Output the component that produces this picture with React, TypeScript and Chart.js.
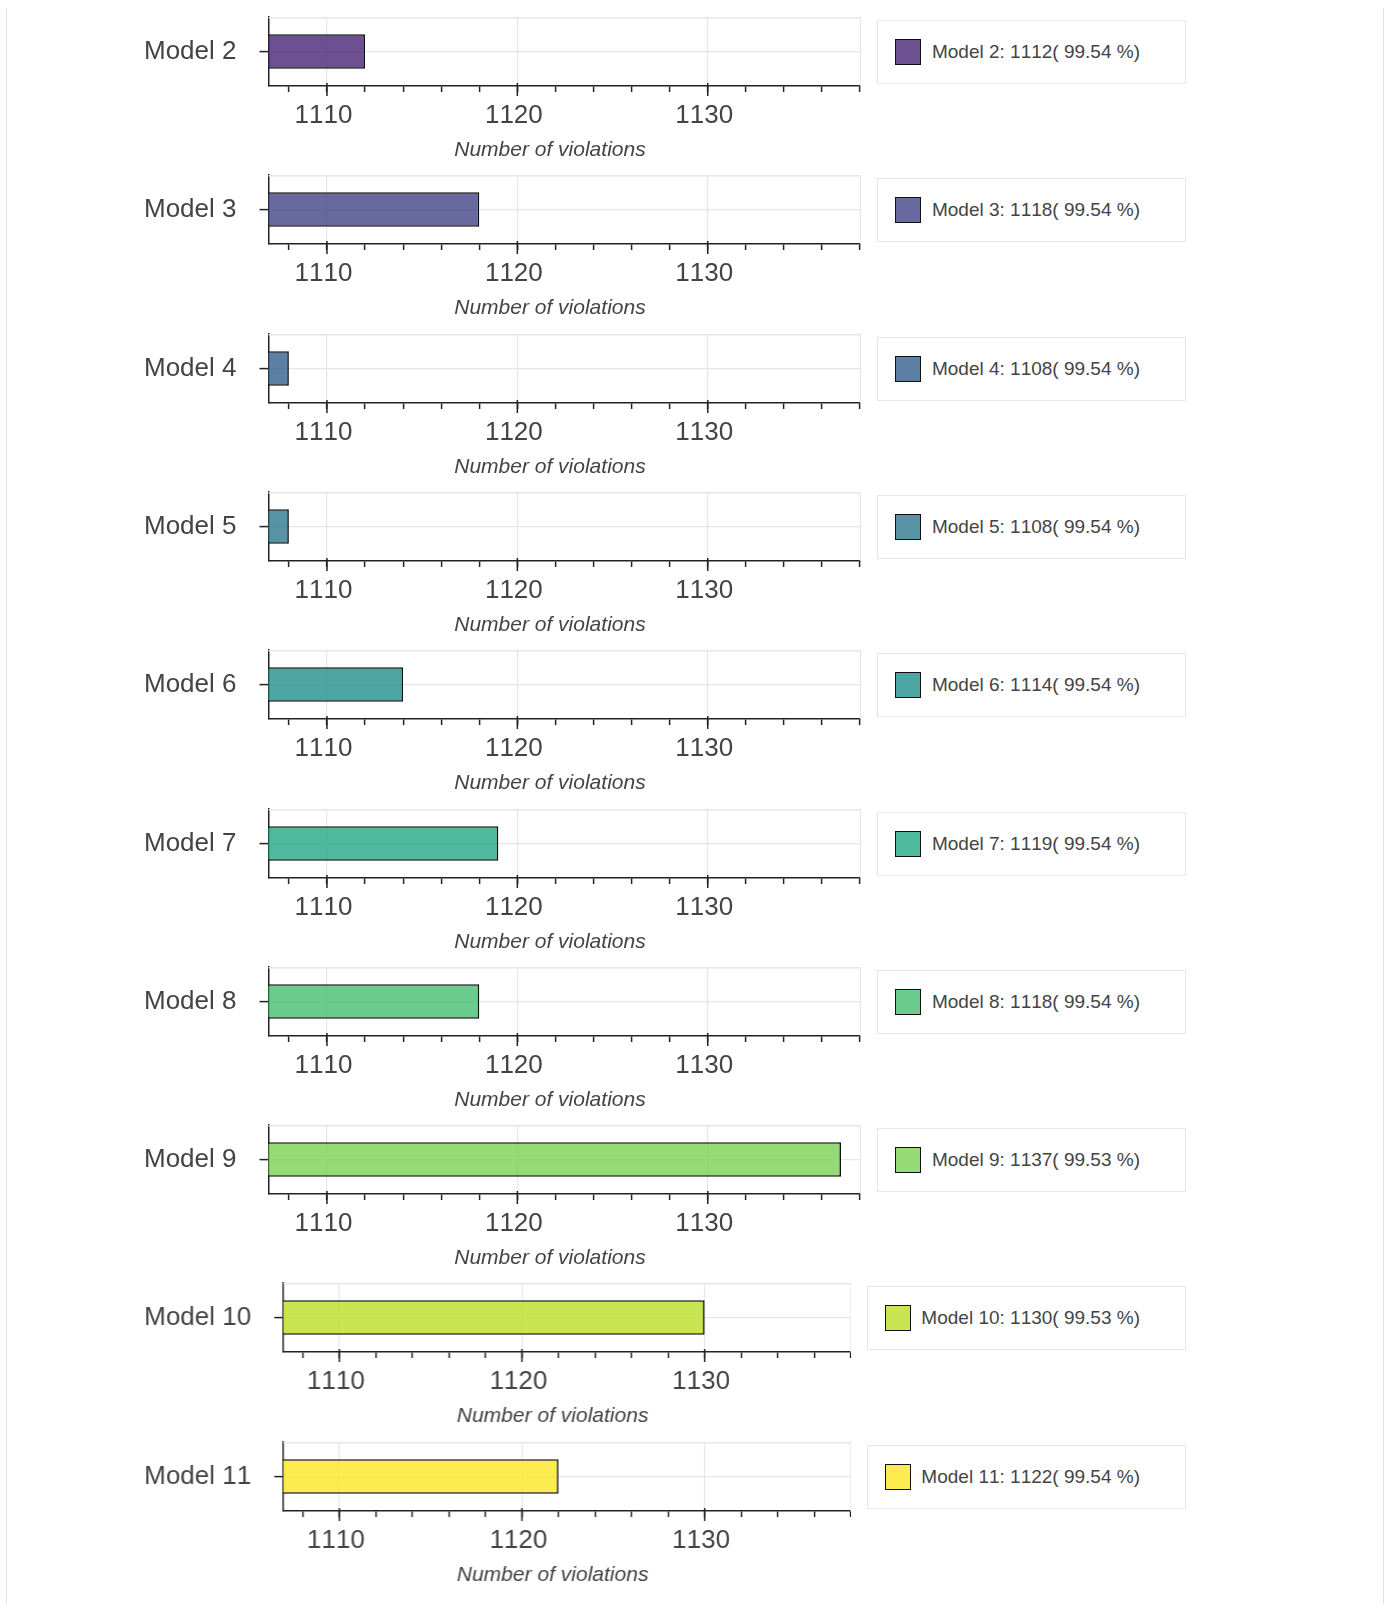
import React, { useEffect, useRef } from 'react';
import { Chart, registerables } from 'chart.js';

Chart.register(...registerables);

// ---------- data ----------
const models = ['Model 2', 'Model 3', 'Model 4', 'Model 5', 'Model 6', 'Model 7', 'Model 8', 'Model 9', 'Model 10', 'Model 11'];
const violations = [1112, 1118, 1108, 1108, 1114, 1119, 1118, 1137, 1130, 1122];
const percents = ['99.54', '99.54', '99.54', '99.54', '99.54', '99.54', '99.54', '99.53', '99.53', '99.54'];
const barColors = ['#482475', '#414487', '#355F8D', '#2A788E', '#21908D', '#22A884', '#43BF71', '#7AD151', '#BBDF27', '#FDE725'];
const axisMin = 1106.93;
const axisMax = 1138.07;
const minorStep = 2;
const majorStep = 10;
const axisTitle = 'Number of violations';

// ---------- style ----------
const FONT = "'Liberation Sans', Arial, Helvetica, sans-serif";
const TEXT = '#444444';
const LIGHT = '#e6e6e6';
const DARK = '#222222';
const PANEL_STEP = 158.3;
const PANEL_H = 158;

Chart.defaults.font.family = FONT;

function rgba(hex: string, a: number): string {
  const h = hex.replace('#', '');
  const r = parseInt(h.slice(0, 2), 16);
  const g = parseInt(h.slice(2, 4), 16);
  const b = parseInt(h.slice(4, 6), 16);
  return `rgba(${r},${g},${b},${a})`;
}

const isMajor = (v: number) => Math.abs(v / majorStep - Math.round(v / majorStep)) < 1e-6;

const noKern = (chart: any) => {
  try {
    chart.ctx.fontKerning = 'none';
  } catch (e) {
    /* ignore */
  }
};

const decorPlugin = {
  id: 'decor',
  beforeInit: noKern,
  beforeUpdate: noKern,
  beforeLayout: noKern,
  beforeDraw: noKern,
  beforeDatasetsDraw(chart: any) {
    const { ctx, chartArea } = chart;
    const { left, right, top, bottom } = chartArea;
    ctx.save();
    ctx.strokeStyle = LIGHT;
    ctx.lineWidth = 1.5;
    ctx.beginPath();
    ctx.moveTo(left, top + 0.75);
    ctx.lineTo(right - 0.75, top + 0.75);
    ctx.lineTo(right - 0.75, bottom);
    ctx.stroke();
    ctx.restore();
  },
  afterDatasetsDraw(chart: any) {
    const { ctx, chartArea } = chart;
    const { left, right, bottom } = chartArea;
    const xs = chart.scales.x;
    ctx.save();
    ctx.strokeStyle = DARK;
    ctx.lineWidth = 1.5;
    xs.ticks.forEach((t: any) => {
      if (isMajor(t.value)) {
        const px = xs.getPixelForValue(t.value);
        ctx.beginPath();
        ctx.moveTo(px, bottom - 3);
        ctx.lineTo(px, bottom + 10);
        ctx.stroke();
      }
    });
    ctx.font = `italic 21px ${FONT}`;
    ctx.fillStyle = TEXT;
    ctx.textAlign = 'center';
    ctx.textBaseline = 'middle';
    ctx.fillText(axisTitle, (left + right) / 2 - 15, bottom + 64.5);
    ctx.restore();
  },
};

function Panel({ index }: { index: number }) {
  const ref = useRef<HTMLCanvasElement | null>(null);

  useEffect(() => {
    if (!ref.current) return;
    const chart = new Chart(ref.current, {
      type: 'bar',
      data: {
        labels: [models[index]],
        datasets: [
          {
            data: [violations[index]],
            backgroundColor: rgba(barColors[index], 0.8),
            borderColor: '#111111',
            borderWidth: 1.6,
            barPercentage: 0.5,
            categoryPercentage: 1,
          },
        ],
      },
      options: {
        indexAxis: 'y',
        animation: false,
        responsive: true,
        maintainAspectRatio: false,
        layout: { padding: { top: 9, left: 113, right: 0, bottom: 0 } },
        plugins: {
          legend: { display: false },
          tooltip: { enabled: false },
          title: { display: false },
        },
        scales: {
          x: {
            type: 'linear',
            min: axisMin,
            max: axisMax,
            grid: {
              color: (c: any) => (c.tick && isMajor(c.tick.value) ? LIGHT : 'rgba(0,0,0,0)'),
              lineWidth: 1.2,
              tickColor: DARK,
              tickWidth: 1.5,
              tickLength: 6,
            },
            border: { color: DARK, width: 1.5 },
            ticks: {
              stepSize: minorStep,
              includeBounds: false,
              autoSkip: false,
              maxRotation: 0,
              padding: 8,
              labelOffset: -3.5,
              color: TEXT,
              font: { family: FONT, size: 26 },
              callback: (v: any) => (isMajor(Number(v)) ? String(Math.round(Number(v))) : ''),
            },
            afterFit: (s: any) => {
              s.height = 80;
              s.paddingLeft = 0;
              s.paddingRight = 0;
            },
          },
          y: {
            type: 'category',
            grid: {
              color: LIGHT,
              lineWidth: 1.2,
              offset: false,
              tickColor: DARK,
              tickWidth: 1.5,
              tickLength: 9,
            },
            border: { color: DARK, width: 1.5 },
            ticks: {
              color: TEXT,
              padding: 23,
              font: { family: FONT, size: 26 },
            },
            afterFit: (s: any) => {
              s.paddingTop = 0;
              s.paddingBottom = 0;
            },
          },
        },
      },
      plugins: [decorPlugin],
    } as any);
    return () => chart.destroy();
  }, [index]);

  return (
    <div style={{ position: 'relative', flex: '1 1 0', minWidth: 0, height: PANEL_H }}>
      <canvas ref={ref} />
    </div>
  );
}

function LegendBox({ index }: { index: number }) {
  const text = `${models[index]}: ${violations[index]}( ${percents[index]} %)`;
  return (
    <div
      style={{
        flex: 'none',
        marginLeft: 16,
        marginTop: 11.5,
        height: 64,
        boxSizing: 'border-box',
        border: `1.5px solid ${LIGHT}`,
        display: 'flex',
        alignItems: 'center',
        paddingLeft: 17,
        paddingRight: 45,
        fontFamily: FONT,
        fontSize: 19,
        fontKerning: 'none',
        color: TEXT,
        whiteSpace: 'nowrap',
        background: '#fff',
      }}
    >
      <span
        style={{
          display: 'inline-block',
          width: 26,
          height: 26,
          boxSizing: 'border-box',
          border: '1.5px solid #111',
          background: rgba(barColors[index], 0.8),
          marginRight: 10.5,
          flex: 'none',
        }}
      />
      <span>{text}</span>
    </div>
  );
}

export default function App() {
  return (
    <div
      style={{
        position: 'absolute',
        left: 0,
        top: 0,
        width: 1387,
        height: 1604,
        overflow: 'hidden',
        background: '#ffffff',
      }}
    >
      <div
        style={{
          position: 'absolute',
          left: 6,
          top: 8,
          width: 1376,
          height: 1596,
          borderLeft: '1px solid #e3e3e3',
          borderRight: '1px solid #e3e3e3',
        }}
      />
      {models.map((m, i) => (
        <div
          key={m}
          style={{
            position: 'absolute',
            left: 8,
            top: Math.round(8 + i * PANEL_STEP),
            width: 1178,
            height: PANEL_H,
            display: 'flex',
            alignItems: 'flex-start',
          }}
        >
          <Panel index={i} />
          <LegendBox index={i} />
        </div>
      ))}
    </div>
  );
}
